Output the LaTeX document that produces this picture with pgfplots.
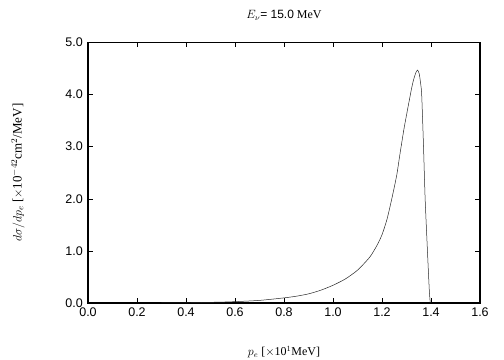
\documentclass[border=0pt]{standalone}
\usepackage{fontspec}
\setmainfont{Liberation Serif}
\newfontfamily\sans{Liberation Sans}
\usepackage{pgfplots}
\pgfplotsset{compat=1.18}
\usetikzlibrary{calc}
\begin{document}
\fontsize{12}{14}\selectfont
\begin{tikzpicture}[font=\fontsize{12}{14}\selectfont]
\begin{axis}[
  name=ax,
  scale only axis,
  width=392pt, height=260.5pt,
  xmin=0, xmax=1.6, ymin=0, ymax=5,
  xtick={0,0.2,...,1.6}, ytick={0,1,...,5},
  tick align=inside,
  major tick length=5pt,
  axis line style={line width=1.2pt},
  tick style={line width=0.5pt, black},
  /pgf/number format/fixed,
  /pgf/number format/fixed zerofill,
  /pgf/number format/precision=1,
  /pgf/number format/assume math mode=true,
  ticklabel style={font=\sans\fontsize{12.5}{14}\selectfont},
  xticklabel style={yshift=-1pt},
  yticklabel style={xshift=-1pt},
  xlabel={$p_e$ [$\times$10$^1$MeV]},
  ylabel={$d\sigma/dp_e$ [$\times$10$^{-42}$cm$^2$/MeV]},
  title={$E_\nu${\sans= 15.0} MeV},
  every axis x label/.style={at={(axis description cs:0.5,-0.188)}, anchor=center},
  every axis y label/.style={at={(axis description cs:-0.1786,0.5)}, anchor=center, rotate=90, font=\fontsize{13}{15}\selectfont},
  every axis title/.style={at={(axis description cs:0.5,1.1056)}, anchor=center},
]
\addplot[black!85, line width=0.5pt, smooth, tension=0.4] coordinates {
(0.30,0.000) (0.40,0.003) (0.47,0.010) (0.55,0.018) (0.60,0.026)
(0.70,0.050) (0.80,0.098) (0.85,0.130) (0.90,0.175) (0.95,0.245)
(1.00,0.340) (1.05,0.460) (1.10,0.630) (1.15,0.880) (1.18,1.110)
(1.20,1.310) (1.22,1.600) (1.24,2.000) (1.26,2.450) (1.273,2.850)
(1.29,3.350) (1.307,3.780) (1.32,4.100) (1.328,4.270) (1.338,4.420)
(1.345,4.470) (1.352,4.400) (1.358,4.200) (1.362,4.000) (1.369,3.070)
(1.376,2.010) (1.385,1.050) (1.393,0.250) (1.397,0.000)
};
\end{axis}
\pgfresetboundingbox
\path[use as bounding box] ($(ax.south west)+(-88pt,-57pt)$) rectangle ($(ax.north east)+(24pt,42.5pt)$);
\end{tikzpicture}
\end{document}
